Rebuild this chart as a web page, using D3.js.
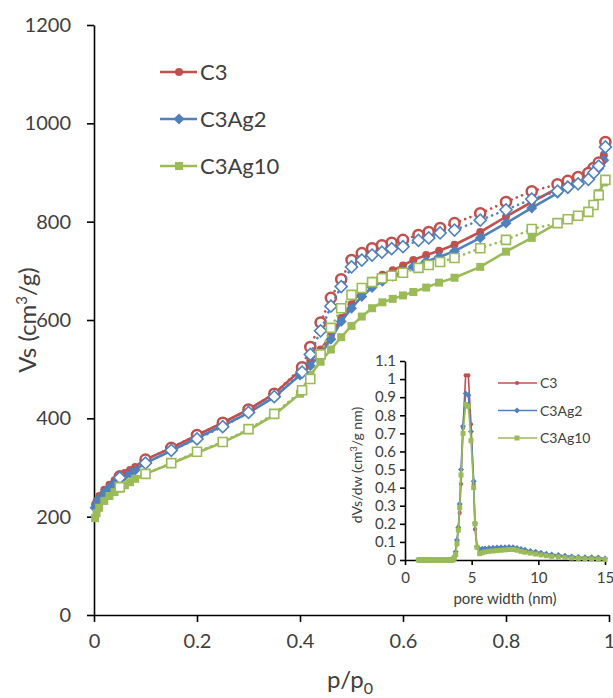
<!DOCTYPE html>
<html>
<head>
<meta charset="utf-8">
<script src="https://cdn.jsdelivr.net/npm/d3@7"></script>
<style>
    body { margin: 0; background: #fff; }
    text { font-family: Lato, "Open Sans", sans-serif; fill: #404040; }
</style>
</head>
<body>
<svg id="chart" width="613" height="698"></svg>
<script>
// isotherm data (p/p0 vs Vs, cm3/g)
var pAds = [0.002, 0.005, 0.01, 0.02, 0.03, 0.04, 0.05, 0.06, 0.07, 0.08, 0.1, 0.15, 0.2, 0.25, 0.3, 0.35,
    0.4, 0.42, 0.44, 0.46, 0.48, 0.5, 0.52, 0.54, 0.56, 0.58, 0.6, 0.62, 0.645, 0.67, 0.7, 0.75, 0.8, 0.85,
    0.9, 0.92, 0.94, 0.96, 0.97, 0.98, 0.99];
var adsC3 = [225, 232, 242, 255, 265, 274, 282, 289, 295, 301, 316, 340, 366, 391, 418, 450,
    497, 517, 540, 568, 604, 632, 662, 680, 692, 701, 711, 722, 732, 741, 753, 779, 810, 840,
    868, 878, 888, 897, 906, 918, 935];
var adsC3Ag2 = [218, 226, 236, 249, 259, 268, 276, 283, 289, 295, 309, 334, 360, 385, 411, 443,
    488, 507, 531, 561, 597, 624, 648, 666, 679, 689, 699, 709, 719, 728, 740, 767, 797, 828,
    858, 870, 880, 889, 897, 908, 925];
var adsC3Ag10 = [197, 207, 218, 232, 242, 250, 257, 264, 270, 277, 287, 308, 330, 351, 376, 407,
    450, 488, 515, 540, 565, 588, 607, 624, 636, 643, 650, 657, 666, 676, 686, 708, 739, 767,
    797, 805, 811, 820, 834, 858, 880];

var pDes = [0.993, 0.98, 0.97, 0.96, 0.94, 0.92, 0.9, 0.85, 0.8, 0.75, 0.7, 0.672, 0.65, 0.63, 0.6, 0.578,
    0.559, 0.54, 0.52, 0.5, 0.48, 0.46, 0.44, 0.42, 0.404, 0.35, 0.3, 0.25, 0.2, 0.15, 0.1, 0.05];
var desC3 = [962, 920, 909, 899, 891, 883, 876, 862, 840, 817, 797, 787, 779, 773, 763, 757,
    752, 746, 736, 722, 683, 645, 595, 545, 504, 450, 418, 391, 366, 340, 316, 282];
var desC3Ag2 = [952, 913, 899, 886, 877, 870, 862, 846, 824, 803, 783, 777, 767, 762, 749, 745,
    738, 732, 722, 708, 668, 628, 578, 530, 494, 444, 412, 383, 358, 335, 309, 279];
var desC3Ag10 = [885, 854, 834, 820, 812, 805, 797, 785, 763, 746, 726, 718, 712, 706, 696, 690,
    685, 677, 665, 651, 624, 584, 530, 480, 457, 409, 378, 352, 332, 309, 287, 260];

// pore size distribution (inset)
var poreWidth = [1.0, 1.1, 1.2, 1.3, 1.4, 1.5, 1.6, 1.7, 1.8, 1.9, 2.0, 2.1, 2.2, 2.3, 2.4, 2.5, 2.6, 2.7,
    2.8, 2.9, 3.0, 3.1, 3.2, 3.3, 3.4, 3.5, 3.6,
    3.7, 3.8, 3.9, 4.0, 4.1, 4.2, 4.35, 4.55, 4.75, 4.95, 5.15, 5.25, 5.4, 5.6, 5.8, 6.0, 6.3, 6.6, 6.9,
    7.2, 7.5, 7.8, 8.1, 8.4, 8.7, 9.0, 9.4, 9.8, 10.2, 10.6, 11.0, 11.5, 12.0, 12.5, 13.0, 13.5, 14.0, 14.5, 15.0];
var psdC3 = [0, 0, 0, 0, 0, 0, 0, 0, 0, 0, 0, 0, 0, 0, 0, 0, 0, 0, 0, 0, 0, 0, 0, 0, 0, 0, 0,
    0.01, 0.04, 0.10, 0.18, 0.26, 0.42, 0.73, 1.02, 1.02, 0.75, 0.42, 0.17, 0.07, 0.055, 0.056, 0.058, 0.06, 0.062, 0.063,
    0.065, 0.066, 0.066, 0.063, 0.058, 0.053, 0.048, 0.043, 0.038, 0.033, 0.028, 0.024, 0.02, 0.016, 0.013, 0.01, 0.008, 0.006, 0.004, 0.002];
var psdC3Ag2 = [0, 0, 0, 0, 0, 0, 0, 0, 0, 0, 0, 0, 0, 0, 0, 0, 0, 0, 0, 0, 0, 0, 0, 0, 0, 0, 0,
    0.02, 0.045, 0.11, 0.18, 0.31, 0.50, 0.74, 0.92, 0.91, 0.71, 0.435, 0.205, 0.075, 0.06, 0.062, 0.064, 0.066, 0.068, 0.069,
    0.07, 0.071, 0.072, 0.07, 0.066, 0.061, 0.056, 0.05, 0.045, 0.04, 0.035, 0.031, 0.027, 0.023, 0.02, 0.017, 0.015, 0.015, 0.014, 0.008];
var psdC3Ag10 = [0, 0, 0, 0, 0, 0, 0, 0, 0, 0, 0, 0, 0, 0, 0, 0, 0, 0, 0, 0, 0, 0, 0, 0, 0, 0, 0,
    0.01, 0.03, 0.09, 0.165, 0.29, 0.47, 0.70, 0.86, 0.85, 0.66, 0.40, 0.20, 0.07, 0.035, 0.04, 0.045, 0.048, 0.05, 0.052,
    0.054, 0.056, 0.058, 0.058, 0.054, 0.048, 0.043, 0.038, 0.033, 0.028, 0.024, 0.02, 0.017, 0.014, 0.011, 0.009, 0.007, 0.006, 0.005, 0.003];

var seriesNames = ['C3', 'C3Ag2', 'C3Ag10'];
var colors = ['#C0504D', '#4F81BD', '#9BBB59'];
var mainYTicks = [0, 200, 400, 600, 800, 1000, 1200];
var mainXTicks = [0, 0.2, 0.4, 0.6, 0.8, 1];
var insetYTicks = [0, 0.1, 0.2, 0.3, 0.4, 0.5, 0.6, 0.7, 0.8, 0.9, 1, 1.1];
var insetXTicks = [0, 5, 10, 15];

var svg = d3.select('#chart');

function zip(xs, ys) {
    return xs.map(function(x, i) { return [x, ys[i]]; });
}

// draws markers of given shape; diamond is a square turned 45 degrees
function drawMarkers(g, pts, x, y, shape, size, fill, stroke, sw) {
    var type = shape === 'circle' ? d3.symbolCircle : d3.symbolSquare;
    var sym = d3.symbol().type(type).size(size);
    g.selectAll(null).data(pts).enter().append('path')
        .attr('d', sym)
        .attr('transform', function(d) {
            return 'translate(' + x(d[0]) + ',' + y(d[1]) + ')' + (shape === 'diamond' ? ' rotate(45)' : '');
        })
        .attr('fill', fill)
        .attr('stroke', stroke)
        .attr('stroke-width', sw);
}

function styleAxis(g, width) {
    g.select('.domain').attr('stroke', '#000').attr('stroke-width', width);
    g.selectAll('.tick line').attr('stroke', '#000').attr('stroke-width', width);
    g.selectAll('.tick text').attr('fill', '#404040');
}

// ---------- main chart ----------
var x = d3.scaleLinear().domain([0, 1]).range([94, 609]);
var y = d3.scaleLinear().domain([0, 1200]).range([615, 25]);

var gy = svg.append('g').attr('transform', 'translate(94,0)')
    .call(d3.axisLeft(y).tickValues(mainYTicks).tickSize(7).tickSizeOuter(0).tickPadding(16)
        .tickFormat(function(d) { return String(d); }));
gy.selectAll('.tick text').style('font-size', '20px');
styleAxis(gy, 1.6);

var gx = svg.append('g').attr('transform', 'translate(0,615)')
    .call(d3.axisBottom(x).tickValues(mainXTicks).tickSize(7).tickSizeOuter(0).tickPadding(12)
        .tickFormat(function(d) { return d === 0 || d === 1 ? String(d) : d3.format('.1f')(d); }));
gx.selectAll('.tick text').style('font-size', '20px');
styleAxis(gx, 1.6);

svg.append('text')
    .attr('transform', 'translate(36,320) rotate(-90)')
    .attr('text-anchor', 'middle')
    .style('font-size', '24px')
    .html('Vs (cm<tspan dy="-9" style="font-size:15px">3</tspan><tspan dy="9">/g)</tspan>');

svg.append('text')
    .attr('x', 350).attr('y', 688)
    .attr('text-anchor', 'middle')
    .style('font-size', '24px')
    .html('p/p<tspan dy="6" style="font-size:16px">0</tspan>');

var line = d3.line().x(function(d) { return x(d[0]); }).y(function(d) { return y(d[1]); });
var adsData = [adsC3, adsC3Ag2, adsC3Ag10];
var desData = [desC3, desC3Ag2, desC3Ag10];
var adsShape = [['circle', 50], ['diamond', 60], ['square', 64]];
var desShape = [['circle', 80, 2.5], ['diamond', 72, 1.6], ['square', 81, 1.6]];

var plot = svg.append('g');
adsData.forEach(function(vals, i) {
    var pts = zip(pAds, vals);
    plot.append('path').datum(pts).attr('d', line)
        .attr('fill', 'none').attr('stroke', colors[i]).attr('stroke-width', 2.6);
    drawMarkers(plot, pts, x, y, adsShape[i][0], adsShape[i][1], colors[i], 'none', 0);
});
desData.forEach(function(vals, i) {
    var pts = zip(pDes, vals);
    plot.append('path').datum(pts).attr('d', line)
        .attr('fill', 'none').attr('stroke', colors[i]).attr('stroke-width', 2.6)
        .attr('stroke-dasharray', '0.1,5.5').attr('stroke-linecap', 'round');
    drawMarkers(plot, pts, x, y, desShape[i][0], desShape[i][1], '#fff', colors[i], desShape[i][2]);
});

// main legend
var legend = svg.append('g');
seriesNames.forEach(function(name, i) {
    var ly = 72 + i * 47;
    legend.append('line').attr('x1', 160).attr('x2', 197).attr('y1', ly).attr('y2', ly)
        .attr('stroke', colors[i]).attr('stroke-width', 2.6);
    drawMarkers(legend, [[179, ly]], function(v) { return v; }, function(v) { return v; },
        adsShape[i][0], adsShape[i][1], colors[i], 'none', 0);
    legend.append('text').attr('x', 200).attr('y', ly + 8).style('font-size', '22px').text(name);
});

// ---------- inset ----------
var ix = d3.scaleLinear().domain([0, 15]).range([405, 605]);
var iy = d3.scaleLinear().domain([0, 1.1]).range([560, 361]);

var igy = svg.append('g').attr('transform', 'translate(405,0)')
    .call(d3.axisLeft(iy).tickValues(insetYTicks).tickSize(5).tickSizeOuter(0).tickPadding(4)
        .tickFormat(function(d) { return d3.format('~g')(d); }));
igy.selectAll('.tick text').style('font-size', '15px');
styleAxis(igy, 1.6);

var igx = svg.append('g').attr('transform', 'translate(0,560)')
    .call(d3.axisBottom(ix).tickValues(insetXTicks).tickSize(5).tickSizeOuter(0).tickPadding(7));
igx.selectAll('.tick text').style('font-size', '15px');
styleAxis(igx, 1.6);

svg.append('text')
    .attr('transform', 'translate(362,465) rotate(-90)')
    .attr('text-anchor', 'middle')
    .style('font-size', '14px')
    .html('dVs/dw (cm<tspan dy="-5" style="font-size:9px">3</tspan><tspan dy="5">/g nm)</tspan>');

svg.append('text')
    .attr('x', 505).attr('y', 604)
    .attr('text-anchor', 'middle')
    .style('font-size', '15px')
    .text('pore width (nm)');

var iline = d3.line().x(function(d) { return ix(d[0]); }).y(function(d) { return iy(d[1]); });
var psdData = [psdC3, psdC3Ag2, psdC3Ag10];
var insetShape = [['circle', 14], ['diamond', 18], ['square', 25]];
psdData.forEach(function(vals, i) {
    var pts = zip(poreWidth, vals);
    svg.append('path').datum(pts).attr('d', iline)
        .attr('fill', 'none').attr('stroke', colors[i]).attr('stroke-width', 1.6);
    drawMarkers(svg, pts, ix, iy, insetShape[i][0], insetShape[i][1], colors[i], 'none', 0);
});

seriesNames.forEach(function(name, i) {
    var ly = 383 + i * 27.5;
    svg.append('line').attr('x1', 498).attr('x2', 537).attr('y1', ly).attr('y2', ly)
        .attr('stroke', colors[i]).attr('stroke-width', 1.6);
    drawMarkers(svg, [[517, ly]], function(v) { return v; }, function(v) { return v; },
        insetShape[i][0], insetShape[i][1], colors[i], 'none', 0);
    svg.append('text').attr('x', 540).attr('y', ly + 5).style('font-size', '14px').text(name);
});
</script>
</body>
</html>
